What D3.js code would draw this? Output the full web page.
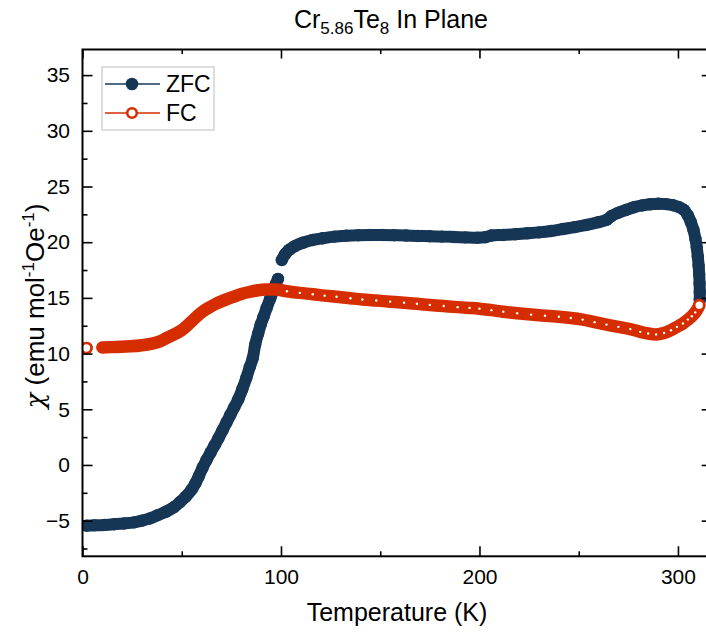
<!DOCTYPE html>
<html>
<head>
<meta charset="utf-8">
<script src="https://cdn.jsdelivr.net/npm/d3@7"></script>
<style>
  body { margin: 0; background: #fff; }
  svg text { font-family: "Liberation Sans", Arial, sans-serif; fill: #000; }
</style>
</head>
<body>
<div id="chart"></div>
<script>
// ZFC data (temperature K, chi)
var tempZFC = [2, 6, 11, 16, 21, 26, 30, 34, 38, 42, 46, 49, 52, 55, 57, 58.5, 60.5, 62.5, 64.5, 66.5,
  68.5, 70.5, 72.5, 74.5, 76.5, 78.5, 80.5, 82.5, 84.3, 85.8, 87, 88.5, 89.8, 91.2, 92.8, 94.5, 96, 97.3, 98.5, 100.4,
  102, 104, 107, 111, 116, 121, 127, 133, 139, 145, 151, 157, 163, 169, 175, 181, 187, 193, 199, 203,
  206, 212, 218, 224, 230, 236, 242, 248, 254, 260, 264, 266.5, 270, 274, 278, 282, 286, 290, 294, 297.5,
  300.5, 303, 305, 306.5, 307.8, 308.8, 309.5, 310, 310.4, 310.7, 310.9, 311, 311];
var chiZFC = [-5.45, -5.42, -5.38, -5.32, -5.25, -5.15, -5.0, -4.8, -4.5, -4.2, -3.8, -3.35, -2.85, -2.2, -1.6, -1.05, -0.25, 0.45, 1.1, 1.75,
  2.4, 3.1, 3.8, 4.5, 5.2, 5.9, 6.8, 7.8, 8.8, 9.6, 10.8, 11.8, 12.6, 13.3, 14.1, 14.9, 15.6, 16.2, 16.7, 18.4,
  18.9, 19.3, 19.65, 19.95, 20.2, 20.35, 20.5, 20.58, 20.63, 20.65, 20.65, 20.63, 20.6, 20.56, 20.54, 20.5, 20.47, 20.43, 20.4, 20.45,
  20.6, 20.65, 20.72, 20.8, 20.88, 21.0, 21.18, 21.35, 21.55, 21.8, 22.0, 22.35, 22.65, 22.9, 23.15, 23.3, 23.4, 23.45, 23.42, 23.32,
  23.15, 22.9, 22.4, 21.8, 21.1, 20.3, 19.5, 18.7, 17.9, 17.1, 16.3, 15.5, 14.8];

// FC data
var tempFC = [2, 10, 17, 24, 30, 35, 39, 43, 47, 50, 53, 56.5, 60, 63.5, 67, 71.5, 76, 80, 84.5, 88.5,
  92.5, 97.5, 103, 109.5, 116, 122, 128, 135, 141, 148, 155, 162, 168.5, 175, 182, 189, 195, 200, 206, 212,
  219, 226, 233, 240, 246, 252, 258, 264, 270, 276, 281, 285, 289, 293, 296.5, 299.5, 302.5, 305, 307, 308.7,
  310, 310.7];
var chiFC = [10.5, 10.55, 10.6, 10.65, 10.75, 10.9, 11.1, 11.45, 11.8, 12.1, 12.55, 13.15, 13.7, 14.1, 14.45, 14.8, 15.1, 15.35, 15.55, 15.68,
  15.75, 15.75, 15.6, 15.45, 15.33, 15.2, 15.1, 14.97, 14.86, 14.76, 14.66, 14.56, 14.47, 14.37, 14.27, 14.17, 14.1, 14.03, 13.9, 13.76,
  13.62, 13.5, 13.4, 13.3, 13.2, 13.05, 12.82, 12.6, 12.4, 12.2, 11.95, 11.8, 11.72, 11.85, 12.1, 12.4, 12.7, 13.05, 13.35, 13.7,
  14.05, 14.35];

var xTicks = [0, 100, 200, 300];
var xMinor = [50, 150, 250];
var yTicks = [-5, 0, 5, 10, 15, 20, 25, 30, 35];
var yMinor = [-7.5, -2.5, 2.5, 7.5, 12.5, 17.5, 22.5, 27.5, 32.5];
var seriesNames = ["ZFC", "FC"];

var navy = "#163656",
    red = "#d62d00";

var W = 706, H = 633;
var plotL = 82.5, plotT = 49.5, plotR = 711.7, plotB = 556.3;

var svg = d3.select("#chart").append("svg")
  .attr("width", W)
  .attr("height", H);

var x = d3.scaleLinear().domain([0, 317]).range([plotL, plotR]);
var y = d3.scaleLinear().domain([-8.2, 37.3]).range([plotB, plotT]);

// clip for data
svg.append("clipPath").attr("id", "clip")
  .append("rect").attr("x", plotL).attr("y", plotT).attr("width", plotR - plotL).attr("height", plotB - plotT);

// split series where the measured points jump apart (markers stop touching)
function segments(ts, vs) {
  var segs = [], cur = [];
  ts.forEach(function(t, i) {
    var p = [x(t), y(vs[i])];
    if (cur.length) {
      var q = cur[cur.length - 1];
      if (Math.hypot(p[0] - q[0], p[1] - q[1]) > 15.5) { segs.push(cur); cur = []; }
    }
    cur.push(p);
  });
  segs.push(cur);
  return segs;
}

var line = d3.line().curve(d3.curveCatmullRom);
var plot = svg.append("g").attr("clip-path", "url(#clip)");

// ZFC: dense filled circles
plot.selectAll(".zfcband").data(segments(tempZFC, chiZFC)).enter()
  .append("path")
    .attr("d", line)
    .attr("fill", "none")
    .attr("stroke", navy)
    .attr("stroke-width", 12)
    .attr("stroke-linecap", "round")
    .attr("stroke-linejoin", "round");
plot.selectAll(".zfc").data(tempZFC).enter()
  .append("circle")
    .attr("cx", function(d) { return x(d); })
    .attr("cy", function(d, i) { return y(chiZFC[i]); })
    .attr("r", 6.2)
    .attr("fill", navy);

// FC: dense open circles (hollow centres only show where points thin out)
plot.selectAll(".fcband").data(segments(tempFC, chiFC)).enter()
  .append("path")
    .attr("d", line)
    .attr("fill", "none")
    .attr("stroke", red)
    .attr("stroke-width", 12.5)
    .attr("stroke-linecap", "round")
    .attr("stroke-linejoin", "round");

var last = tempFC.length - 1;
plot.selectAll(".fc").data(tempFC).enter()
  .filter(function(d, i) { return i === 0 || i === last || d > 100; })
  .append("circle")
    .attr("cx", function(d) { return x(d); })
    .attr("cy", function(d) { return y(chiFC[tempFC.indexOf(d)]); })
    .attr("r", function(d) { var i = tempFC.indexOf(d); return (i === 0 || i === last) ? 5 : 1.2; })
    .attr("fill", "#fff")
    .attr("stroke", red)
    .attr("stroke-width", function(d) { var i = tempFC.indexOf(d); return (i === 0 || i === last) ? 2.6 : 0; });

// axes, ticks inward
function styleAxis(g) {
  g.select(".domain").remove();
  g.selectAll(".tick line").attr("stroke", "#000").attr("stroke-width", 1.6);
  g.selectAll("text").attr("font-size", 21).attr("fill", "#000")
    .attr("font-family", "Liberation Sans, Arial, sans-serif");
}

svg.append("g").attr("transform", "translate(0," + plotB + ")")
  .call(d3.axisBottom(x).tickValues(xTicks).tickSizeInner(-10).tickSizeOuter(0).tickPadding(13))
  .call(styleAxis);
svg.append("g").attr("transform", "translate(0," + plotB + ")")
  .call(d3.axisBottom(x).tickValues(xMinor).tickSizeInner(-5).tickSizeOuter(0).tickFormat(""))
  .call(styleAxis);
svg.append("g").attr("transform", "translate(0," + plotT + ")")
  .call(d3.axisTop(x).tickValues(xTicks).tickSizeInner(-9).tickSizeOuter(0).tickFormat(""))
  .call(styleAxis);
svg.append("g").attr("transform", "translate(0," + plotT + ")")
  .call(d3.axisTop(x).tickValues(xMinor).tickSizeInner(-4.5).tickSizeOuter(0).tickFormat(""))
  .call(styleAxis);

svg.append("g").attr("transform", "translate(" + plotL + ",0)")
  .call(d3.axisLeft(y).tickValues(yTicks).tickSizeInner(-10).tickSizeOuter(0).tickPadding(12.5))
  .call(styleAxis);
svg.append("g").attr("transform", "translate(" + plotL + ",0)")
  .call(d3.axisLeft(y).tickValues(yMinor).tickSizeInner(-5).tickSizeOuter(0).tickFormat(""))
  .call(styleAxis);
svg.append("g").attr("transform", "translate(" + plotR + ",0)")
  .call(d3.axisRight(y).tickValues(yTicks).tickSizeInner(-10).tickSizeOuter(0).tickFormat(""))
  .call(styleAxis);
svg.append("g").attr("transform", "translate(" + plotR + ",0)")
  .call(d3.axisRight(y).tickValues(yMinor).tickSizeInner(-5).tickSizeOuter(0).tickFormat(""))
  .call(styleAxis);

// frame
svg.append("rect")
  .attr("x", plotL).attr("y", plotT)
  .attr("width", plotR - plotL).attr("height", plotB - plotT)
  .attr("fill", "none").attr("stroke", "#000").attr("stroke-width", 2);

// title
var title = svg.append("text").attr("x", 391).attr("y", 28).attr("text-anchor", "middle").attr("font-size", 25);
title.append("tspan").text("Cr");
title.append("tspan").attr("font-size", 17).attr("dy", 6).text("5.86");
title.append("tspan").attr("dy", -6).text("Te");
title.append("tspan").attr("font-size", 17).attr("dy", 6).text("8");
title.append("tspan").attr("dy", -6).text(" In Plane");

// axis titles
svg.append("text")
  .attr("x", 397).attr("y", 621)
  .attr("text-anchor", "middle")
  .attr("font-size", 25)
  .text("Temperature (K)");

var yl = svg.append("text")
  .attr("transform", "translate(44,306) rotate(-90)")
  .attr("text-anchor", "middle")
  .attr("font-size", 26);
yl.append("tspan").attr("font-style", "italic").attr("font-family", "DejaVu Serif, serif").text("χ");
yl.append("tspan").text(" (emu mol");
yl.append("tspan").attr("font-size", 17).attr("dy", -10).text("-1");
yl.append("tspan").attr("dy", 10).text("Oe");
yl.append("tspan").attr("font-size", 17).attr("dy", -10).text("-1");
yl.append("tspan").attr("dy", 10).text(")");

// legend
var legend = svg.append("g");
legend.append("rect")
  .attr("x", 102).attr("y", 67).attr("width", 112).attr("height", 63)
  .attr("fill", "#fff").attr("stroke", "#c8c8c8").attr("stroke-width", 1.2);

var legY = [84, 113];
seriesNames.forEach(function(name, i) {
  var col = i === 0 ? navy : red;
  legend.append("line")
    .attr("x1", 105).attr("x2", 160).attr("y1", legY[i]).attr("y2", legY[i])
    .attr("stroke", col).attr("stroke-width", 1.5);
  legend.append("circle")
    .attr("cx", 132).attr("cy", legY[i])
    .attr("r", i === 0 ? 6.3 : 4.8)
    .attr("fill", i === 0 ? navy : "#fff")
    .attr("stroke", col).attr("stroke-width", i === 0 ? 0 : 2.6);
  legend.append("text")
    .attr("x", 166).attr("y", legY[i]).attr("dy", "0.36em")
    .attr("font-size", 23)
    .text(name);
});
</script>
</body>
</html>
